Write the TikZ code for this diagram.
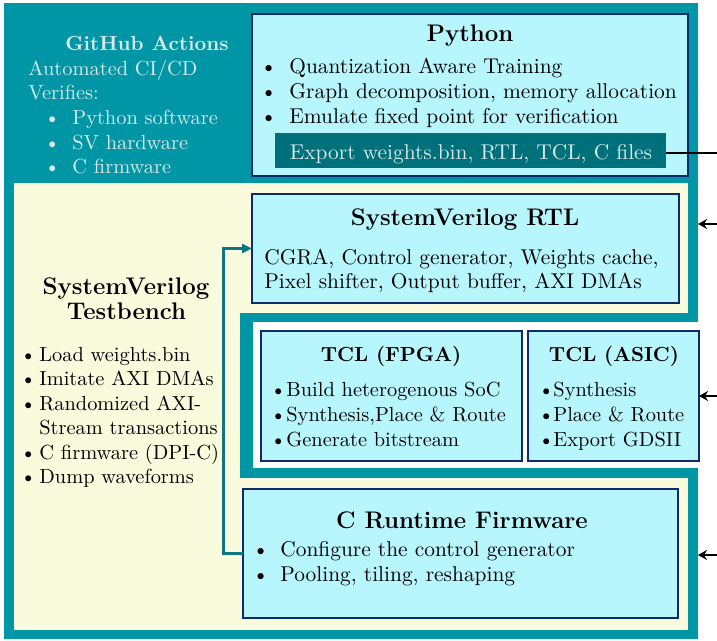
\documentclass[tikz,border=0pt]{standalone}
\usetikzlibrary{arrows.meta}
\definecolor{tealbg}{HTML}{0096A6}
\definecolor{cyanbox}{HTML}{B8F6FE}
\definecolor{navy}{HTML}{0F2A6D}
\definecolor{darkteal}{HTML}{00707A}
\definecolor{paleyellow}{HTML}{FAFADC}
\definecolor{lighttext}{HTML}{D8E9EA}
\definecolor{conncol}{HTML}{0C7783}
\newcommand{\fbody}{\fontsize{10.2}{12}\selectfont}
\newcommand{\fbig}{\fontsize{10.7}{12.5}\selectfont}
\newcommand{\ftitle}{\fontsize{12}{14}\selectfont\bfseries}
\newcommand{\fsmalltitle}{\fontsize{10.2}{12}\selectfont\bfseries}
\newcommand{\bul}[2]{\makebox[#1][l]{\textbullet}#2}
\begin{document}
\begin{tikzpicture}[x=0.5pt,y=-0.5pt,
  area/.style={anchor=north west, inner sep=0pt, outer sep=0pt},
  cbox/.style={area, fill=cyanbox, draw=navy, line width=1.2pt},
  txt/.style={inner sep=0pt, anchor=base west},
  ttl/.style={inner sep=0pt, anchor=base, font=\ftitle},
  conn/.style={draw=conncol, line width=1.5pt, -{Triangle[length=5pt,width=4.5pt]}},
  ext/.style={line width=1pt, -{Stealth[length=4.5pt,width=5pt]}},
]
\useasboundingbox (0,0) rectangle (717,641);
% background areas
\node[area, fill=tealbg, minimum width=347pt, minimum height=318pt] (gha) at (4,3) {};
\node[area, fill=paleyellow, minimum width=337pt, minimum height=223.5pt] (tb) at (14,183) {};
% Python
\node[cbox, minimum width=218pt, minimum height=81pt] (py) at (252,14) {};
\node[area, fill=darkteal, minimum width=195.5pt, minimum height=17.5pt] (exp) at (275,133) {};
% RTL
\node[cbox, minimum width=213.5pt, minimum height=54.5pt] (rtl) at (252,194) {};
% TCL container
\node[area, fill=tealbg, minimum width=229pt, minimum height=82.5pt] (tclf) at (240,313) {};
\node[area, fill=white, minimum width=232pt, minimum height=73pt] (tclw) at (253,322) {};
\node[cbox, minimum width=130.5pt, minimum height=65pt] (fpga) at (261,331) {};
\node[cbox, minimum width=85.5pt, minimum height=65pt] (asic) at (528,331) {};
% C firmware
\node[cbox, minimum width=217.5pt, minimum height=64.5pt] (cfw) at (243,489) {};

% GitHub text
\node[ttl, font=\fsmalltitle, text=lighttext] (ghat) at (147,51) {GitHub Actions};
\node[txt, font=\fbody, text=lighttext] (gh1) at (28,76) {Automated CI/CD};
\node[txt, font=\fbody, text=lighttext] (gh2) at (28,100) {Verifies:};
\node[txt, font=\fbody, text=lighttext] (gh3) at (44,125) {\bul{14pt}{Python software}};
\node[txt, font=\fbody, text=lighttext] (gh4) at (44,149.3) {\bul{14pt}{SV hardware}};
\node[txt, font=\fbody, text=lighttext] (gh5) at (44,173.3) {\bul{14pt}{C firmware}};

% Python text
\node[ttl] (pyt) at (470,41.5) {Python};
\node[txt, font=\fbig] (py1) at (260,73.3) {\bul{14.5pt}{Quantization Aware Training}};
\node[txt, font=\fbig] (py2) at (260,99) {\bul{14.5pt}{Graph decomposition, memory allocation}};
\node[txt, font=\fbig] (py3) at (260,124) {\bul{14.5pt}{Emulate fixed point for verification}};
\node[inner sep=0pt, anchor=base, font=\fbig, text=lighttext] (expt) at (471,159.3) {Export weights.bin, RTL, TCL, C files};

% RTL text
\node[ttl] (rtlt) at (465,225.5) {SystemVerilog RTL};
\node[txt, font=\fbig] (rtl1) at (264,264.5) {CGRA, Control generator, Weights cache,};
\node[txt, font=\fbig] (rtl2) at (264,289) {Pixel shifter, Output buffer, AXI DMAs};

% Testbench text
\node[ttl] (tbt1) at (126,295) {SystemVerilog};
\node[ttl] (tbt2) at (126.5,320) {Testbench};
\node[txt, font=\fbody] (tb1) at (20,361.5) {\bul{9.5pt}{Load weights.bin}};
\node[txt, font=\fbody] (tb2) at (20,385.9) {\bul{9.5pt}{Imitate AXI DMAs}};
\node[txt, font=\fbody] (tb3) at (20,410.3) {\bul{9.5pt}{Randomized AXI-}};
\node[txt, font=\fbody] (tb4) at (39,434.7) {Stream transactions};
\node[txt, font=\fbody] (tb5) at (20,459.1) {\bul{9.5pt}{C firmware (DPI-C)}};
\node[txt, font=\fbody] (tb6) at (20,483.5) {\bul{9.5pt}{Dump waveforms}};

% TCL text
\node[ttl, font=\fsmalltitle] (fpgat) at (391,361.5) {TCL (FPGA)};
\node[txt, font=\fbody] (fp1) at (270,396.7) {\bul{8pt}{Build heterogenous SoC}};
\node[txt, font=\fbody] (fp2) at (270,421.7) {\bul{8pt}{Synthesis,Place \& Route}};
\node[txt, font=\fbody] (fp3) at (270,446.7) {\bul{8pt}{Generate bitstream}};
\node[ttl, font=\fsmalltitle] (asict) at (614,361.5) {TCL (ASIC)};
\node[txt, font=\fbody] (as1) at (538,396.7) {\bul{7.5pt}{Synthesis}};
\node[txt, font=\fbody] (as2) at (538,421.7) {\bul{7.5pt}{Place \& Route}};
\node[txt, font=\fbody] (as3) at (538,446.7) {\bul{7.5pt}{Export GDSII}};

% C text
\node[ttl] (cfwt) at (462,528) {C Runtime Firmware};
\node[txt, font=\fbig] (cf1) at (252,556) {\bul{14pt}{Configure the control generator}};
\node[txt, font=\fbig] (cf2) at (252,581) {\bul{14pt}{Pooling, tiling, reshaping}};

% connectors
\draw[conn] (cfw.west) -- ++(-20,0) |- (rtl.west);
\coordinate (outE) at (717,153);
\draw[line width=1pt] (exp.east |- outE) -- (outE);
\coordinate (inR) at (717,224);
\draw[ext] (inR) -- (inR -| gha.east);
\coordinate (inT) at (717,396);
\draw[ext] (inT) -- (asic.east);
\coordinate (inC) at (717,555);
\draw[ext] (inC) -- (inC -| gha.east);
\end{tikzpicture}
\end{document}
